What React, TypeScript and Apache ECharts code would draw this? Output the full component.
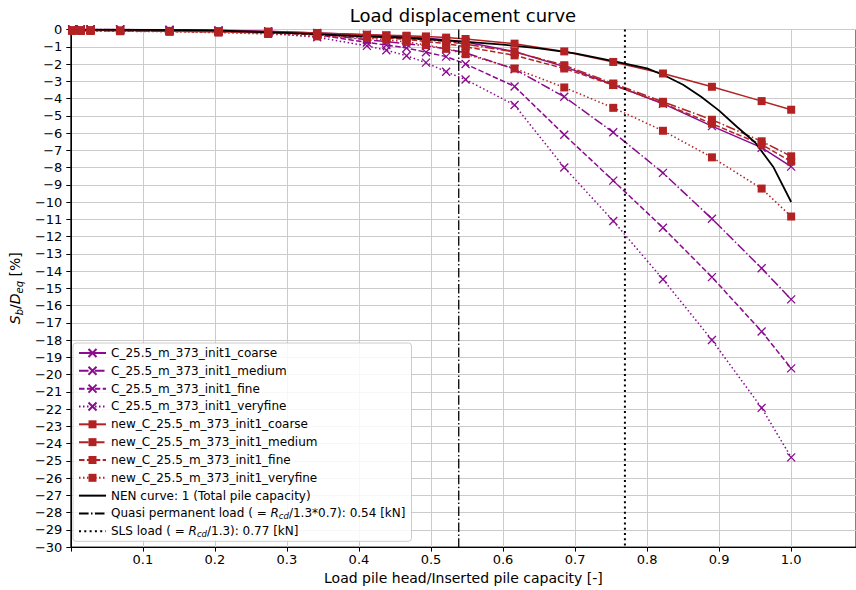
import React, { useEffect, useRef } from "react";
import * as echarts from "echarts";

// Load ratio steps (shared by all FEM series)
const loadRatio = [0.002, 0.0137, 0.0274, 0.0685, 0.137, 0.205, 0.274, 0.342, 0.411, 0.438, 0.466, 0.493, 0.521, 0.548, 0.616, 0.685, 0.753, 0.822, 0.890, 0.959, 1.0];

const cCoarse = [0, 0, 0, 0, -0.02, -0.05, -0.1, -0.2, -0.3, -0.36, -0.42, -0.5, -0.6, -0.72, -1.28, -2.15, -3.2, -4.3, -5.6, -6.85, -7.95];
const cMedium = [0, 0, 0, 0, -0.03, -0.07, -0.13, -0.25, -0.6, -0.7, -0.82, -0.95, -1.12, -1.35, -2.3, -3.9, -5.96, -8.31, -10.97, -13.84, -15.64];
const cFine = [0, 0, 0, 0, -0.03, -0.08, -0.15, -0.3, -0.75, -0.9, -1.07, -1.32, -1.57, -2.0, -3.3, -6.1, -8.76, -11.49, -14.35, -17.5, -19.64];
const cVeryfine = [0, 0, 0, 0, -0.04, -0.1, -0.2, -0.45, -0.95, -1.2, -1.52, -1.92, -2.45, -2.9, -4.38, -8.0, -11.1, -14.48, -18.0, -21.93, -24.8];

const nCoarse = [-0.05, -0.05, -0.05, -0.06, -0.08, -0.1, -0.12, -0.2, -0.3, -0.33, -0.36, -0.4, -0.47, -0.55, -0.82, -1.27, -1.88, -2.55, -3.32, -4.15, -4.65];
const nMedium = [-0.06, -0.06, -0.06, -0.07, -0.1, -0.12, -0.16, -0.25, -0.4, -0.45, -0.5, -0.6, -0.7, -0.85, -1.3, -2.07, -3.13, -4.19, -5.23, -6.48, -7.35];
const nFine = [-0.06, -0.06, -0.06, -0.08, -0.11, -0.14, -0.2, -0.3, -0.45, -0.5, -0.57, -0.7, -0.82, -1.0, -1.5, -2.26, -3.22, -4.28, -5.46, -6.67, -7.65];
const nVeryfine = [-0.08, -0.08, -0.08, -0.1, -0.13, -0.18, -0.26, -0.4, -0.5, -0.6, -0.72, -0.9, -1.12, -1.43, -2.26, -3.36, -4.54, -5.87, -7.41, -9.22, -10.84];

// NEN load-settlement curve
const nenLoad = [0, 0.1, 0.2, 0.3, 0.4, 0.45, 0.5, 0.55, 0.6, 0.65, 0.7, 0.75, 0.8, 0.825, 0.85, 0.875, 0.9, 0.925, 0.95, 0.975, 1.0];
const nenSettlement = [0, -0.02, -0.05, -0.2, -0.38, -0.45, -0.58, -0.72, -0.88, -1.1, -1.38, -1.8, -2.25, -2.68, -3.2, -3.9, -4.7, -5.65, -6.55, -7.95, -10.0];

// Reference load levels
const quasiLoad = 0.5385;
const slsLoad = 0.7692;

const seriesNames = [
  "C_25.5_m_373_init1_coarse",
  "C_25.5_m_373_init1_medium",
  "C_25.5_m_373_init1_fine",
  "C_25.5_m_373_init1_veryfine",
  "new_C_25.5_m_373_init1_coarse",
  "new_C_25.5_m_373_init1_medium",
  "new_C_25.5_m_373_init1_fine",
  "new_C_25.5_m_373_init1_veryfine",
  "NEN curve: 1 (Total pile capacity)",
  "Quasi permanent load",
  "SLS load",
];

const FONT = "DejaVu Sans";
const PURPLE = "#8b0a8f";
const RED = "#b22222";
const LW = 1.5;
const SOLID: any = "solid";
const DASHDOT = [9.6, 2.4, 1.5, 2.4];
const DASHED = [5.5, 2.4];
const DOTTED = [1.5, 2.5];
const CROSS = "path://M0,0L10,10M10,0L0,10";

function pairs(xs: number[], ys: number[]) {
  return xs.map((x, i) => [x, ys[i]]);
}

function femSeries(name: string, ys: number[], color: string, type: any, purple: boolean) {
  return {
    name,
    type: "line",
    data: pairs(loadRatio, ys),
    symbol: purple ? CROSS : "rect",
    symbolSize: 8,
    showSymbol: true,
    lineStyle: { color, width: LW, type },
    itemStyle: purple
      ? { color: "rgba(0,0,0,0)", borderColor: color, borderWidth: 1.3 }
      : { color, borderWidth: 0 },
    emphasis: { disabled: true },
    clip: true,
  };
}

export default function App() {
  const ref = useRef<HTMLDivElement>(null);
  useEffect(() => {
    if (!ref.current) return;
    const chart = echarts.init(ref.current, undefined, { renderer: "svg" });
    const legendData = seriesNames.map((n, i) =>
      i >= 8 ? { name: n, itemStyle: { opacity: 0 } } : { name: n }
    );
    const option: any = {
      animation: false,
      textStyle: { fontFamily: FONT },
      graphic: [
        {
          type: "text",
          x: 463,
          y: 15.5,
          style: {
            text: "Load displacement curve",
            font: `18px '${FONT}'`,
            fill: "#000",
            textAlign: "center",
            textVerticalAlign: "middle",
          },
        },
      ],
      grid: {
        left: 67,
        right: -2,
        top: 29.5,
        bottom: 41.5,
        show: true,
        borderColor: "#000",
        borderWidth: 1,
        backgroundColor: "transparent",
      },
      legend: {
        orient: "vertical",
        left: 73,
        top: 343,
        itemWidth: 27,
        itemHeight: 10,
        itemGap: 3.83,
        padding: [3, 6, 3, 5],
        backgroundColor: "rgba(255,255,255,0.85)",
        borderColor: "#cccccc",
        borderWidth: 1,
        borderRadius: 3,
        data: legendData,
        formatter: (name: string) => {
          if (name === "Quasi permanent load")
            return "Quasi permanent load ( = {it|R}{sub|cd}/1.3*0.7): 0.54 [kN]";
          if (name === "SLS load") return "SLS load ( = {it|R}{sub|cd}/1.3): 0.77 [kN]";
          return name;
        },
        textStyle: {
          fontFamily: FONT,
          fontSize: 12,
          color: "#000",
          lineHeight: 14,
          rich: {
            it: { fontFamily: FONT, fontSize: 12, fontStyle: "italic", color: "#000", lineHeight: 14 },
            sub: {
              fontFamily: FONT,
              fontSize: 8.5,
              fontStyle: "italic",
              color: "#000",
              verticalAlign: "bottom",
              lineHeight: 14,
              padding: [5, 0, 0, 0],
            },
          },
        },
      },
      xAxis: {
        type: "value",
        min: 0,
        max: 1.09,
        interval: 0.1,
        name: "Load pile head/Inserted pile capacity [-]",
        nameLocation: "middle",
        nameGap: 21,
        nameTextStyle: { fontFamily: FONT, fontSize: 14, color: "#000" },
        axisLine: { show: true, onZero: false, lineStyle: { color: "#000", width: 1 } },
        axisTick: { show: true, length: 4.5, lineStyle: { color: "#000" } },
        axisLabel: {
          fontFamily: FONT,
          fontSize: 13,
          color: "#000",
          margin: 6,
          showMaxLabel: false,
          formatter: (v: number) => {
            const k = Math.round(v * 10);
            if (Math.abs(v * 10 - k) > 1e-6 || k < 1 || k > 10) return "";
            return (k / 10).toFixed(1);
          },
        },
        splitLine: { show: true, lineStyle: { color: "#cbcbcb", width: 1 } },
      },
      yAxis: {
        type: "value",
        min: -30,
        max: 0,
        interval: 1,
        name: "{i|S}{s|b}{n|/}{i|D}{s|eq}{n| [%]}",
        nameLocation: "middle",
        nameRotate: 90,
        nameGap: 39,
        nameTextStyle: {
          fontFamily: FONT,
          fontSize: 14,
          color: "#000",
          rich: {
            i: { fontFamily: FONT, fontSize: 14, fontStyle: "italic", color: "#000", lineHeight: 18 },
            n: { fontFamily: FONT, fontSize: 14, color: "#000", lineHeight: 18 },
            s: {
              fontFamily: FONT,
              fontSize: 10,
              fontStyle: "italic",
              color: "#000",
              lineHeight: 18,
              verticalAlign: "bottom",
              padding: [6, 0, 0, 0],
            },
          },
        },
        axisLine: { show: true, onZero: false, lineStyle: { color: "#000", width: 1 } },
        axisTick: { show: true, length: 4.5, lineStyle: { color: "#000" } },
        axisLabel: {
          fontFamily: FONT,
          fontSize: 13,
          color: "#000",
          margin: 8.5,
          formatter: (v: number) => (v === 0 ? "0" : "\u2212" + Math.abs(v)),
        },
        splitLine: { show: true, lineStyle: { color: "#cbcbcb", width: 1 } },
      },
      series: [
        femSeries(seriesNames[0], cCoarse, PURPLE, SOLID, true),
        femSeries(seriesNames[1], cMedium, PURPLE, DASHDOT, true),
        femSeries(seriesNames[2], cFine, PURPLE, DASHED, true),
        femSeries(seriesNames[3], cVeryfine, PURPLE, DOTTED, true),
        femSeries(seriesNames[4], nCoarse, RED, SOLID, false),
        femSeries(seriesNames[5], nMedium, RED, DASHDOT, false),
        femSeries(seriesNames[6], nFine, RED, DASHED, false),
        femSeries(seriesNames[7], nVeryfine, RED, DOTTED, false),
        {
          name: seriesNames[8],
          type: "line",
          data: pairs(nenLoad, nenSettlement),
          showSymbol: false,
          symbol: "none",
          lineStyle: { color: "#000", width: 1.8, type: "solid" },
          itemStyle: { color: "#000" },
          emphasis: { disabled: true },
        },
        {
          name: seriesNames[9],
          type: "line",
          data: [
            [quasiLoad, 0],
            [quasiLoad, -30],
          ],
          symbol: "none",
          lineStyle: { color: "#000", width: 1.3, type: DASHDOT },
          itemStyle: { color: "#000" },
          emphasis: { disabled: true },
        },
        {
          name: seriesNames[10],
          type: "line",
          data: [
            [slsLoad, 0],
            [slsLoad, -30],
          ],
          symbol: "none",
          lineStyle: { color: "#000", width: 2, type: [2, 3.3] },
          itemStyle: { color: "#000" },
          emphasis: { disabled: true },
        },
      ],
    };
    chart.setOption(option);
    return () => chart.dispose();
  }, []);
  return (
    <div
      ref={ref}
      style={{ position: "fixed", left: 0, top: 0, width: 856, height: 590, background: "#fff" }}
    />
  );
}
